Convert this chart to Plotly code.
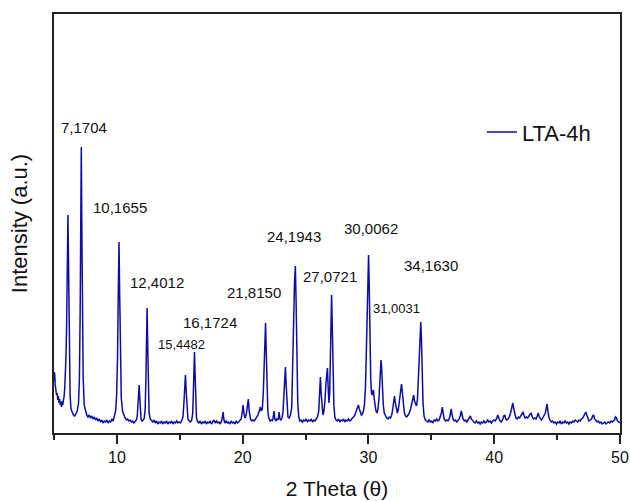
import plotly.graph_objects as go

trace_05_08 = [(5.00, 52), (5.03, 61), (5.06, 58), (5.10, 48), (5.15, 44), (5.20, 38), (5.25, 40), (5.30, 33),
               (5.35, 37), (5.40, 30), (5.45, 34), (5.50, 28), (5.55, 31), (5.60, 26), (5.65, 32), (5.70, 28),
               (5.75, 33), (5.80, 36), (5.85, 44), (5.90, 55), (5.95, 75), (6.00, 105), (6.04, 150), (6.08, 195),
               (6.11, 218), (6.14, 185), (6.18, 120), (6.22, 70), (6.28, 38), (6.35, 24), (6.45, 20), (6.55, 18),
               (6.65, 17), (6.75, 19), (6.85, 22), (6.95, 30), (7.02, 55), (7.08, 120), (7.13, 220), (7.17, 286),
               (7.21, 210), (7.26, 120), (7.32, 55), (7.40, 28), (7.50, 21), (7.60, 18)]
trace_08_13 = [(7.70, 16), (7.80, 18), (7.90, 15), (8.00, 17), (8.10, 14), (8.20, 16), (8.30, 13), (8.40, 15),
               (8.50, 12), (8.60, 14), (8.70, 11), (8.80, 13), (8.90, 10), (9.00, 12), (9.10, 11), (9.20, 13),
               (9.30, 10), (9.40, 12), (9.50, 11), (9.60, 14), (9.70, 12), (9.80, 16), (9.90, 22), (9.98, 38),
               (10.05, 75), (10.11, 140), (10.17, 191), (10.22, 140), (10.28, 70), (10.35, 35), (10.45, 22),
               (10.55, 17), (10.65, 15), (10.75, 13), (10.85, 14), (10.95, 12), (11.05, 13), (11.15, 11),
               (11.25, 12), (11.35, 10), (11.45, 12), (11.55, 13), (11.62, 17), (11.68, 28), (11.73, 40),
               (11.77, 48), (11.81, 38), (11.86, 20), (11.92, 14), (12.00, 12), (12.10, 13), (12.18, 15),
               (12.25, 25), (12.31, 55), (12.36, 100), (12.40, 125), (12.44, 95), (12.49, 45), (12.56, 20),
               (12.65, 14), (12.75, 12)]
trace_13_20 = [(12.85, 11), (12.95, 13), (13.05, 10), (13.15, 12), (13.25, 9), (13.35, 11), (13.45, 10), (13.55, 12),
               (13.65, 9), (13.75, 11), (13.85, 10), (13.95, 12), (14.05, 9), (14.15, 11), (14.25, 10), (14.35, 12),
               (14.45, 9), (14.55, 11), (14.65, 10), (14.75, 12), (14.85, 10), (14.95, 11), (15.05, 10), (15.15, 12),
               (15.25, 16), (15.32, 28), (15.38, 45), (15.45, 58), (15.51, 42), (15.57, 22), (15.65, 14), (15.75, 12),
               (15.85, 11), (15.95, 13), (16.03, 20), (16.09, 45), (16.13, 70), (16.17, 81), (16.21, 62), (16.26, 30),
               (16.33, 15), (16.42, 11), (16.52, 10), (16.62, 12), (16.72, 9), (16.82, 11), (16.92, 10), (17.02, 12),
               (17.12, 9), (17.22, 11), (17.32, 10), (17.42, 12), (17.52, 9), (17.62, 11), (17.72, 13), (17.82, 10),
               (17.92, 12), (18.02, 10), (18.12, 11), (18.22, 9), (18.32, 12), (18.40, 17), (18.45, 21), (18.50, 14),
               (18.58, 10), (18.68, 12), (18.78, 10), (18.88, 11), (18.98, 9), (19.08, 12), (19.18, 10), (19.28, 11),
               (19.38, 9), (19.48, 12), (19.58, 10), (19.68, 11), (19.78, 13), (19.88, 14)]
trace_20_26 = [(19.96, 20), (20.03, 28), (20.10, 20), (20.18, 15), (20.28, 18), (20.38, 28), (20.45, 34), (20.52, 22),
               (20.62, 14), (20.72, 12), (20.82, 13), (20.92, 12), (21.02, 14), (21.12, 16), (21.22, 18), (21.32, 22),
               (21.40, 26), (21.48, 22), (21.56, 24), (21.64, 40), (21.70, 75), (21.76, 100), (21.82, 110), (21.87, 85),
               (21.93, 45), (22.00, 22), (22.08, 15), (22.18, 12), (22.28, 13), (22.38, 12), (22.45, 18), (22.50, 22),
               (22.56, 14), (22.64, 12), (22.72, 14), (22.82, 13), (22.90, 21), (22.96, 14), (23.04, 13), (23.12, 15),
               (23.20, 20), (23.28, 35), (23.34, 55), (23.40, 66), (23.45, 50), (23.52, 24), (23.60, 16), (23.70, 15),
               (23.80, 18), (23.90, 25), (23.98, 60), (24.05, 110), (24.12, 150), (24.19, 167), (24.25, 130),
               (24.31, 70), (24.38, 30), (24.46, 16), (24.55, 12), (24.65, 13), (24.75, 11), (24.85, 13), (24.95, 12),
               (25.05, 14), (25.15, 11), (25.25, 13), (25.35, 12), (25.45, 14), (25.55, 11), (25.65, 13), (25.75, 12),
               (25.85, 14)]
trace_26_30 = [(25.95, 16), (26.05, 22), (26.12, 40), (26.18, 56), (26.24, 40), (26.31, 22), (26.38, 18), (26.46, 22),
               (26.54, 32), (26.62, 50), (26.69, 62), (26.74, 65), (26.80, 45), (26.86, 30), (26.92, 40), (26.98, 90),
               (27.03, 125), (27.07, 138), (27.12, 110), (27.18, 60), (27.25, 28), (27.33, 16), (27.42, 13),
               (27.52, 12), (27.62, 14), (27.72, 11), (27.82, 13), (27.92, 12), (28.02, 14), (28.12, 11), (28.22, 13),
               (28.32, 12), (28.42, 14), (28.52, 12), (28.62, 13), (28.72, 15), (28.82, 16), (28.92, 18), (29.02, 22),
               (29.12, 25), (29.20, 28), (29.28, 24), (29.36, 20), (29.44, 18), (29.52, 19), (29.60, 22), (29.68, 28),
               (29.76, 45), (29.84, 85), (29.92, 140), (29.97, 170), (30.01, 178), (30.06, 150), (30.12, 95),
               (30.18, 55), (30.24, 40), (30.30, 38), (30.36, 42), (30.40, 43), (30.45, 35), (30.52, 26), (30.60, 22)]
trace_31_35 = [(30.68, 20), (30.76, 24), (30.84, 35), (30.91, 55), (30.97, 70), (31.00, 73), (31.05, 65), (31.11, 45),
               (31.18, 28), (31.26, 20), (31.35, 17), (31.45, 15), (31.55, 14), (31.65, 16), (31.75, 15), (31.85, 18),
               (31.93, 24), (32.00, 33), (32.07, 37), (32.14, 30), (32.22, 22), (32.30, 20), (32.38, 24), (32.46, 32),
               (32.54, 42), (32.63, 49), (32.70, 40), (32.78, 26), (32.86, 20), (32.95, 17), (33.05, 16), (33.15, 18),
               (33.25, 20), (33.35, 24), (33.45, 30), (33.55, 36), (33.60, 38), (33.66, 32), (33.74, 28), (33.82, 27),
               (33.90, 34), (33.98, 55), (34.04, 80), (34.10, 100), (34.16, 111), (34.21, 95), (34.27, 60),
               (34.34, 30), (34.42, 17), (34.52, 13), (34.62, 12), (34.72, 11), (34.82, 13)]
trace_35_42 = [(34.92, 11), (35.02, 12), (35.12, 10), (35.22, 13), (35.32, 12), (35.42, 14), (35.52, 12), (35.62, 13),
               (35.72, 16), (35.80, 20), (35.87, 26), (35.94, 20), (36.02, 14), (36.12, 12), (36.22, 13), (36.32, 12),
               (36.42, 14), (36.50, 18), (36.57, 24), (36.64, 19), (36.72, 14), (36.82, 12), (36.92, 13), (37.02, 11),
               (37.12, 13), (37.22, 14), (37.30, 17), (37.38, 22), (37.45, 18), (37.52, 14), (37.62, 12), (37.72, 13),
               (37.82, 11), (37.92, 13), (38.02, 15), (38.10, 17), (38.18, 14), (38.28, 12), (38.38, 11), (38.48, 10),
               (38.58, 12), (38.68, 10), (38.78, 11), (38.88, 9), (38.98, 11), (39.08, 10), (39.18, 12), (39.28, 10),
               (39.38, 11), (39.48, 13), (39.58, 11), (39.68, 12), (39.78, 10), (39.88, 12), (39.98, 13), (40.08, 12),
               (40.18, 14), (40.28, 18), (40.36, 15), (40.46, 12), (40.56, 11), (40.66, 13), (40.76, 17), (40.84, 18),
               (40.92, 14), (41.00, 13), (41.10, 14), (41.20, 16), (41.30, 20), (41.40, 25), (41.48, 30), (41.56, 24),
               (41.64, 18), (41.72, 15), (41.82, 14), (41.92, 16)]
trace_42_50 = [(42.02, 15), (42.12, 17), (42.22, 19), (42.30, 21), (42.38, 17), (42.46, 15), (42.56, 16), (42.66, 15),
               (42.76, 17), (42.86, 19), (42.94, 20), (43.02, 16), (43.12, 14), (43.22, 15), (43.32, 14), (43.42, 17),
               (43.50, 20), (43.58, 16), (43.66, 14), (43.76, 13), (43.86, 15), (43.96, 17), (44.06, 20), (44.14, 25),
               (44.20, 29), (44.26, 23), (44.34, 16), (44.44, 13), (44.54, 11), (44.64, 12), (44.74, 10), (44.84, 11),
               (44.94, 9), (45.04, 11), (45.14, 10), (45.24, 12), (45.34, 9), (45.44, 11), (45.54, 10), (45.64, 12),
               (45.74, 10), (45.84, 11), (45.94, 9), (46.04, 11), (46.14, 10), (46.24, 12), (46.34, 11), (46.44, 13),
               (46.54, 12), (46.64, 11), (46.74, 13), (46.84, 12), (46.94, 14), (47.04, 15), (47.12, 17), (47.20, 19),
               (47.28, 21), (47.36, 18), (47.44, 14), (47.54, 12), (47.64, 13), (47.74, 14), (47.82, 17), (47.90, 18),
               (47.98, 14), (48.08, 12), (48.18, 11), (48.28, 12), (48.38, 10), (48.48, 11), (48.58, 9), (48.68, 10),
               (48.78, 11), (48.88, 9), (48.98, 10), (49.08, 11), (49.18, 10), (49.28, 12), (49.38, 11), (49.48, 12),
               (49.56, 13), (49.64, 16), (49.72, 15), (49.80, 12), (49.90, 11), (50.00, 10)]

segments = [trace_05_08, trace_08_13, trace_13_20, trace_20_26, trace_26_30, trace_31_35, trace_35_42, trace_42_50]
two_theta = [p[0] for s in segments for p in s]
intensity = [p[1] for s in segments for p in s]

# Peak labels: text, label position (2theta, intensity), font size
peak_labels = ["7,1704", "10,1655", "12,4012", "15,4482", "16,1724", "21,8150",
               "24,1943", "27,0721", "30,0062", "31,0031", "34,1630"]
label_x = [7.40, 10.25, 13.2, 15.11, 17.42, 20.92, 24.11, 26.97, 30.24, 32.23, 34.94]
label_y = [306, 226, 151, 89, 111, 141, 197, 157, 205, 125, 168]
label_size = [15, 15, 15, 13, 15, 15, 15, 15, 15, 13, 15]

FONT = "Liberation Sans, Arial, sans-serif"
BLUE = "#0c0ca8"
AXIS = "#222222"
TXT = "#111111"

fig = go.Figure()
fig.add_trace(go.Scatter(x=two_theta, y=intensity, mode="lines", name="LTA-4h",
                         line=dict(color=BLUE, width=1.5)))

for t, x, y, s in zip(peak_labels, label_x, label_y, label_size):
    fig.add_annotation(x=x, y=y, xref="x", yref="y", text=t, showarrow=False,
                       font=dict(family=FONT, size=s, color=TXT))

fig.update_layout(
    width=630, height=501,
    margin=dict(l=54, r=10, t=14, b=68, autoexpand=False),
    paper_bgcolor="white", plot_bgcolor="white",
    font=dict(family=FONT, color=TXT),
    showlegend=True,
    legend=dict(x=0.756, y=0.718, xanchor="left", yanchor="middle",
                bgcolor="rgba(0,0,0,0)", font=dict(size=22, family=FONT, color=TXT)),
    xaxis=dict(range=[5, 50], tick0=0, dtick=10,
               ticks="outside", ticklen=9, tickwidth=1.5, tickcolor=AXIS,
               minor=dict(dtick=5, ticks="outside", ticklen=5, tickwidth=1.5, tickcolor=AXIS, showgrid=False),
               showline=True, linecolor=AXIS, linewidth=2, mirror=True,
               showgrid=False, zeroline=False, automargin=False,
               tickfont=dict(size=16, family=FONT, color=TXT),
               title=dict(text="2 Theta (\u03b8)", font=dict(size=21, family=FONT, color=TXT), standoff=16)),
    yaxis=dict(range=[0, 419], showticklabels=False, ticks="",
               showline=True, linecolor=AXIS, linewidth=2, mirror=True,
               showgrid=False, zeroline=False, automargin=False,
               title=dict(text="Intensity (a.u.)", font=dict(size=22, family=FONT, color=TXT), standoff=18)),
)

# remove the browser's default page margin so the 630x501 figure fills the window
fig.write_html("out.html", config={"displayModeBar": False},
               post_script="document.body.style.margin='0';")
